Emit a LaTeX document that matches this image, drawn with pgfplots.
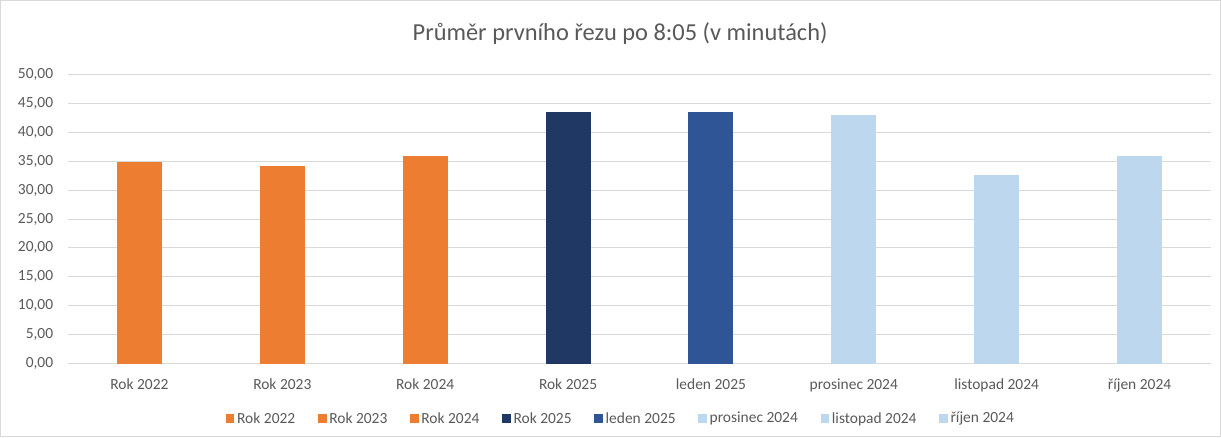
\documentclass[border=0pt]{standalone}
\usepackage{pgfplots}
\pgfplotsset{compat=1.18}
\usepackage{fontspec}
\setmainfont{Carlito}
\definecolor{orng}{HTML}{ED7D31}
\definecolor{navy}{HTML}{203864}
\definecolor{midblue}{HTML}{2F5597}
\definecolor{lightblue}{HTML}{BDD7EE}
\definecolor{txt}{HTML}{595959}
\definecolor{grd}{HTML}{D9D9D9}
\begin{document}
\begin{tikzpicture}[x=1pt,y=1pt]
\draw[grd, line width=0.75pt] (0.375,0.375) rectangle (915.375,327.375);
\begin{axis}[
  at={(51pt,55pt)}, anchor=south west,
  scale only axis, width=857.25pt, height=217pt,
  ymin=0, ymax=50, ytick={0,5,...,50},
  xmin=-0.5, xmax=7.5, xtick={0,...,7},
  xticklabels={Rok 2022,Rok 2023,Rok 2024,Rok 2025,leden 2025,prosinec 2024,listopad 2024,říjen 2024},
  ybar, bar width=33.75pt, bar shift=0pt,
  ymajorgrids, grid style={grd, line width=0.75pt},
  axis x line*=bottom, axis y line*=left,
  y axis line style={draw=none},
  x axis line style={grd, line width=0.75pt, -},
  major tick length=0pt,
  tick label style={font=\fontsize{11.6}{13.5}\selectfont, text=txt},
  yticklabel style={xshift=-7.6pt},
  xticklabel style={anchor=base, yshift=-19pt},
  /pgf/number format/.cd, fixed, fixed zerofill, precision=2, use comma, assume math mode=true,
  /pgfplots/.cd,
  title={Průměr prvního řezu po 8:05 (v minutách)},
  title style={at={(0.483,1.091)}, anchor=base, inner sep=0pt, font=\fontsize{18.3}{21}\selectfont, text=txt},
  legend columns=8,
  legend style={at={(0.484,-0.19)}, anchor=center, draw=none, fill=none,
    font=\fontsize{11.6}{13.5}\selectfont, text=txt,
    /tikz/every even column/.append style={column sep=15pt}},
  legend image code/.code={\draw[#1,draw=none] (0pt,-3.25pt) rectangle (6.5pt,3.25pt);},
]
\addplot[fill=orng, draw=none] coordinates {(0,34.9)}; \addlegendentry{Rok 2022}
\addplot[fill=orng, draw=none] coordinates {(1,34.2)}; \addlegendentry{Rok 2023}
\addplot[fill=orng, draw=none] coordinates {(2,35.9)}; \addlegendentry{Rok 2024}
\addplot[fill=navy, draw=none] coordinates {(3,43.5)}; \addlegendentry{Rok 2025}
\addplot[fill=midblue, draw=none] coordinates {(4,43.5)}; \addlegendentry{leden 2025}
\addplot[fill=lightblue, draw=none] coordinates {(5,43.0)}; \addlegendentry{prosinec 2024}
\addplot[fill=lightblue, draw=none] coordinates {(6,32.6)}; \addlegendentry{listopad 2024}
\addplot[fill=lightblue, draw=none] coordinates {(7,35.9)}; \addlegendentry{říjen 2024}
\end{axis}
\end{tikzpicture}
\end{document}
